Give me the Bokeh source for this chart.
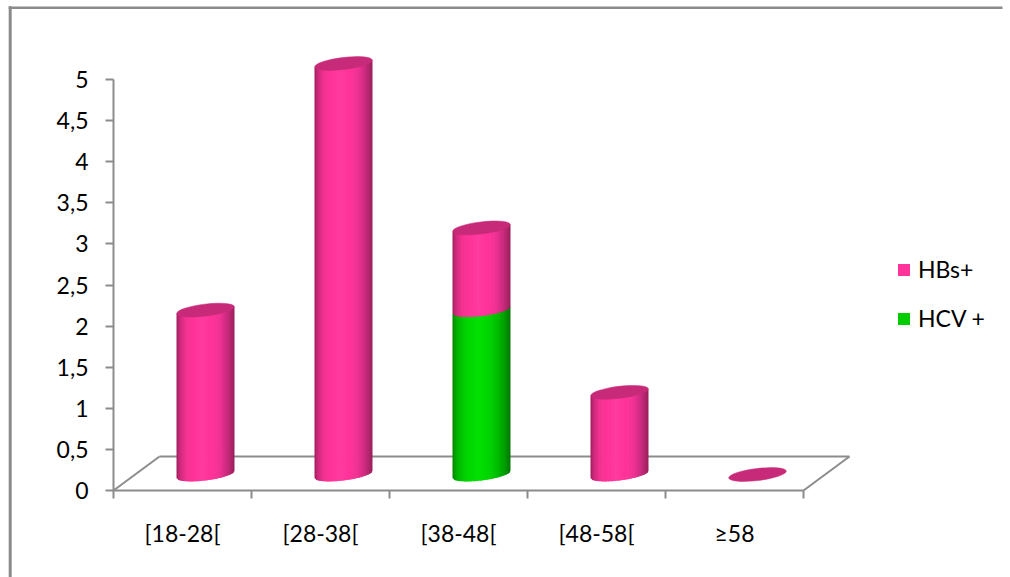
import math
import numpy as np
from bokeh.plotting import figure
from bokeh.models import (FixedTicker, Legend, LegendItem, ColumnDataSource,
                          Range1d, LinearAxis)
from bokeh.embed import file_html
from bokeh.resources import INLINE

# ---------------- data ----------------
categories = ["[18-28[", "[28-38[", "[38-48[", "[48-58[", "\u226558"]
hbs = [2, 5, 1, 1, 0]          # HBs+
hcv = [0, 0, 2, 0, 0]          # HCV +
series_names = ["HBs+", "HCV +"]
y_ticks = [0, 0.5, 1, 1.5, 2, 2.5, 3, 3.5, 4, 4.5, 5]
y_tick_labels = ["0", "0,5", "1", "1,5", "2", "2,5", "3", "3,5", "4", "4,5", "5"]

# ---------------- layout / style ----------------
PXX, PXY = 138.0, 82.2          # pixels per category / per unit
W, H = 1010, 577
X0, Y0 = 113, 490               # pixel position of the axes origin
FONT = "Lato"
FS = "23px"
GRAY = "#8c8c8c"
BORDER = "#8a8a8a"


def xd(px):
    return (px - X0) / PXX


def yd(py):
    return (Y0 - py) / PXY


pink_stops = [(0.0, "#a01f5c"), (0.06, "#cc2a7c"), (0.16, "#f2318f"), (0.3, "#ff3399"),
              (0.45, "#ff3a9e"), (0.62, "#ff3399"), (0.76, "#ec3192"), (0.88, "#c82a7c"),
              (1.0, "#981d58")]
green_stops = [(0.0, "#008400"), (0.08, "#00b400"), (0.25, "#00d600"), (0.45, "#00e000"),
               (0.62, "#00d400"), (0.78, "#00bc00"), (0.9, "#009c00"), (1.0, "#007600")]
pink_top = "#c72a78"
legend_colors = ["#ff3399", "#00cc00"]

# cylinder geometry in pixels
OFF_X, OFF_Y = 23.0, 16.0
RX, RY, TILT = 29.0, 6.0, 0.12
FLOOR_DX, FLOOR_DY = 46.0, 34.0
NSTRIP = 40


def hex2rgb(h):
    h = h.lstrip("#")
    return tuple(int(h[i:i + 2], 16) for i in (0, 2, 4))


def interp(stops, u):
    for (u0, c0), (u1, c1) in zip(stops[:-1], stops[1:]):
        if u0 <= u <= u1:
            t = (u - u0) / (u1 - u0) if u1 > u0 else 0
            a, b = hex2rgb(c0), hex2rgb(c1)
            return "#%02x%02x%02x" % tuple(int(round(a[k] + (b[k] - a[k]) * t)) for k in range(3))
    return stops[-1][1]


p = figure(width=W, height=H,
           x_range=Range1d(xd(0), xd(W)),
           y_range=Range1d(yd(H), yd(0)),
           x_axis_type=None, y_axis_type=None,
           output_backend="svg", toolbar_location=None, min_border=0)
p.outline_line_color = None
p.background_fill_color = "white"
p.border_fill_color = "white"

# ---- outer chart-area border (left and top edges inside the window) ----
p.segment(x0=[xd(9.7), xd(8.2)], y0=[yd(5.8), yd(7.2)],
          x1=[xd(9.7), xd(W - 8)], y1=[yd(H + 5), yd(7.2)],
          line_color=BORDER, line_width=[3, 2.5])

# ---- axes (placed at the data origin) ----
yaxis = LinearAxis(ticker=FixedTicker(ticks=y_ticks, minor_ticks=[]), bounds=(0, 5),
                   fixed_location=0)
yaxis.major_label_overrides = {t: l for t, l in zip(y_ticks, y_tick_labels)}
yaxis.axis_line_color = GRAY
yaxis.axis_line_width = 2
yaxis.major_tick_line_color = GRAY
yaxis.major_tick_line_width = 2
yaxis.major_tick_out = 8
yaxis.major_tick_in = 0
yaxis.minor_tick_line_color = None
yaxis.major_label_text_font = FONT
yaxis.major_label_text_font_size = FS
yaxis.major_label_text_color = "black"
yaxis.major_label_standoff = 17
p.add_layout(yaxis, "left")

n = len(categories)
x_centers = [i + 0.5 for i in range(n)]
x_bounds = list(range(n + 1))
xaxis = LinearAxis(ticker=FixedTicker(ticks=x_centers, minor_ticks=x_bounds), bounds=(0, n),
                   fixed_location=0)
xaxis.major_label_overrides = {c: l for c, l in zip(x_centers, categories)}
xaxis.axis_line_color = GRAY
xaxis.axis_line_width = 2
xaxis.major_tick_line_color = None
xaxis.major_tick_out = 0
xaxis.major_tick_in = 0
xaxis.minor_tick_line_color = GRAY
xaxis.minor_tick_line_width = 2
xaxis.minor_tick_out = 8
xaxis.minor_tick_in = 0
xaxis.major_label_text_font = FONT
xaxis.major_label_text_font_size = FS
xaxis.major_label_text_color = "black"
xaxis.major_label_standoff = 20
p.add_layout(xaxis, "below")

# ---- 3D floor ----
fdx, fdy = FLOOR_DX / PXX, FLOOR_DY / PXY
p.segment(x0=[0, n, fdx], y0=[0, 0, fdy], x1=[fdx, n + fdx, n + fdx], y1=[fdy, fdy, fdy],
          line_color=GRAY, line_width=2)

# ---- cylinders ----
xs, ys, cols = [], [], []
top_x, top_y = [], []
xo, yo = OFF_X / PXX, OFF_Y / PXY
slope = math.tan(TILT)


def add_segment(cx, y0, y1, stops):
    for i in range(NSTRIP):
        u0, u1 = i / NSTRIP, (i + 1) / NSTRIP
        d0, d1 = (u0 - 0.5) * 2 * RX, (u1 - 0.5) * 2 * RX
        if i < NSTRIP - 1:
            d1 += 0.7  # small overlap to hide seams
        d1c = min(d1, RX)
        t0 = y1 + slope * d0 / PXY
        t1 = y1 + slope * d1 / PXY
        l0 = y0 + (slope * d0 - RY * math.sqrt(max(0.0, 1 - (d0 / RX) ** 2))) / PXY
        l1 = y0 + (slope * d1 - RY * math.sqrt(max(0.0, 1 - (d1c / RX) ** 2))) / PXY
        xs.append([cx + d0 / PXX, cx + d1 / PXX, cx + d1 / PXX, cx + d0 / PXX])
        ys.append([t0, t1, l1, l0])
        cols.append(interp(stops, (u0 + u1) / 2))


for i in range(n):
    cx = x_centers[i] + xo
    base = yo
    if hcv[i] > 0:
        add_segment(cx, base, base + hcv[i], green_stops)
    if hbs[i] > 0:
        add_segment(cx, base + hcv[i], base + hcv[i] + hbs[i], pink_stops)
    top_x.append(cx)
    top_y.append(base + hcv[i] + hbs[i])

src = ColumnDataSource(dict(xs=xs, ys=ys, c=cols))
p.patches("xs", "ys", source=src, fill_color="c", line_color=None)
p.ellipse(x=top_x, y=top_y, width=2 * RX / PXX, height=2 * RY / PXY, angle=TILT,
          fill_color=pink_top, line_color=pink_top, line_width=0.5)

# ---- legend (swatch renderers hold one undrawn row so the legend draws them) ----
nan = np.array([np.nan])
r_hbs = p.quad(left=nan, right=nan, top=nan, bottom=nan, fill_color=legend_colors[0], line_color=None)
r_hcv = p.quad(left=nan, right=nan, top=nan, bottom=nan, fill_color=legend_colors[1], line_color=None)
legend = Legend(items=[LegendItem(label=series_names[0], renderers=[r_hbs]),
                       LegendItem(label=series_names[1], renderers=[r_hcv])],
                location=(896, H - 332), orientation="vertical",
                glyph_width=15, glyph_height=15, label_height=15,
                label_text_font=FONT, label_text_font_size=FS,
                label_text_color="black", label_standoff=7,
                spacing=21, padding=0, margin=0,
                border_line_color=None, background_fill_alpha=0)
p.add_layout(legend)

open("out.html", "w").write(file_html(p, INLINE))
